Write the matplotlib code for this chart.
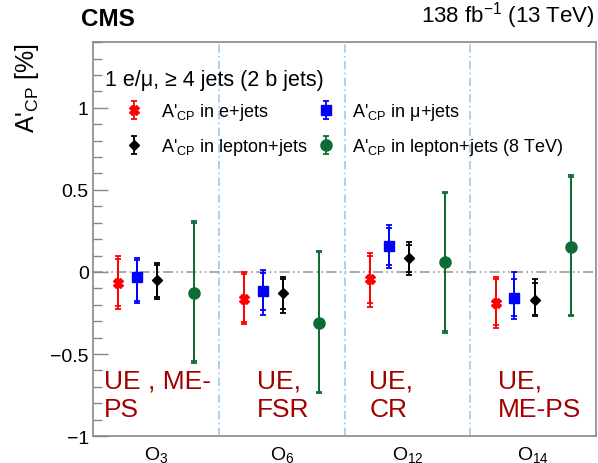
import numpy as np
import matplotlib
matplotlib.use("Agg")
from matplotlib import pyplot as plt
from matplotlib.ticker import MultipleLocator

plt.rcParams['font.family'] = ['Liberation Sans', 'DejaVu Sans']
plt.rcParams['mathtext.fontset'] = 'custom'
plt.rcParams['mathtext.rm'] = 'Liberation Sans'
plt.rcParams['mathtext.it'] = 'Liberation Sans:italic'

# observables
labels = ['O$_{3}$', 'O$_{6}$', 'O$_{12}$', 'O$_{14}$']
systs = ['UE , ME-\nPS', 'UE,\nFSR', 'UE,\nCR', 'UE,\nME-PS']

# A'_CP [%] : central value, total error up / down, stat error up / down
e_val = [-0.07, -0.165, -0.04, -0.19]
e_up = [0.17, 0.165, 0.155, 0.16]
e_dn = [0.155, 0.155, 0.175, 0.15]
e_sup = [0.15, 0.15, 0.14, 0.145]
e_sdn = [0.14, 0.14, 0.15, 0.135]

mu_val = [-0.03, -0.115, 0.16, -0.16]
mu_up = [0.115, 0.125, 0.125, 0.16]
mu_dn = [0.16, 0.145, 0.135, 0.125]
mu_sup = [0.10, 0.11, 0.11, 0.12]
mu_sdn = [0.15, 0.115, 0.115, 0.11]

l_val = [-0.05, -0.13, 0.085, -0.17]
l_up = [0.105, 0.10, 0.095, 0.125]
l_dn = [0.115, 0.12, 0.105, 0.10]
l_sup = [0.09, 0.09, 0.08, 0.10]
l_sdn = [0.10, 0.095, 0.085, 0.09]

l8_val = [-0.13, -0.31, 0.06, 0.155]
l8_up = [0.44, 0.44, 0.43, 0.435]
l8_dn = [0.425, 0.43, 0.43, 0.425]
l8_sup = [0.43, 0.43, 0.42, 0.425]
l8_sdn = [0.415, 0.42, 0.42, 0.415]

x = np.arange(len(labels))
green = '#0d6b35'

fig = plt.figure(figsize=(5.98, 4.64), dpi=100)
ax = fig.add_axes([0.1555, 0.058, 0.8415, 0.849])

series = [
    (e_val, e_up, e_dn, e_sup, e_sdn, 0.20, 'red', 'X', 7, "A'$_{\\rm CP}$ in e+jets"),
    (mu_val, mu_up, mu_dn, mu_sup, mu_sdn, 0.35, 'blue', 's', 7, "A'$_{\\rm CP}$ in \u03bc+jets"),
    (l_val, l_up, l_dn, l_sup, l_sdn, 0.51, 'black', 'D', 5.5, "A'$_{\\rm CP}$ in lepton+jets"),
    (l8_val, l8_up, l8_dn, l8_sup, l8_sdn, 0.80, green, 'o', 8, "A'$_{\\rm CP}$ in lepton+jets (8 TeV)"),
]

handles = []
for val, up, dn, sup, sdn, off, col, mk, ms, lab in series:
    xs = x + off
    # stat error (inner caps)
    ax.errorbar(xs, val, yerr=[sdn, sup], fmt='none', ecolor=col, elinewidth=1.3,
                capsize=2.2, capthick=1.3)
    h = ax.errorbar(xs, val, yerr=[dn, up], fmt=mk, color=col, ms=ms, mec=col,
                    elinewidth=1.3, capsize=2.2, capthick=1.3, label=lab)
    handles.append(h)

ax.axhline(0, color='#999999', lw=1.2, ls=(0, (6, 2, 1, 2, 1, 2)), zorder=0)
for b in [1, 2, 3]:
    ax.axvline(b, color='#9ccbef', lw=1.2, ls=(0, (5, 2, 1, 2)), zorder=0)

text_dx = [0.09, 0.30, 0.195, 0.22]
for i, s in enumerate(systs):
    ax.text(i + text_dx[i], -0.59, s, color='#a30000', fontsize=19, va='top',
            ha='left', linespacing=1.2)

ax.set_xlim(0, 4)
ax.set_ylim(-1, 1.4)
ax.set_xticks(x + 0.5)
ax.set_xticklabels(labels, fontsize=14)
ax.tick_params(axis='x', length=0, pad=6)
ax.yaxis.set_major_locator(MultipleLocator(0.5))
ax.yaxis.set_minor_locator(MultipleLocator(0.1))
ax.set_yticks([-1, -0.5, 0, 0.5, 1])
ax.set_yticklabels(['\u22121', '\u22120.5', '0', '0.5', '1'])
ax.tick_params(axis='y', which='major', direction='in', length=11, width=1,
               color='#888888', labelsize=14, pad=3)
ax.tick_params(axis='y', which='minor', direction='in', length=6.5, width=1,
               color='#888888')
for sp in ax.spines.values():
    sp.set_color('#888888')
    sp.set_linewidth(1.2)

ax.set_ylabel("A'$_{\\rm CP}$ [%]", fontsize=18, loc='top', labelpad=7)

fig.text(0.135, 0.933, 'CMS', fontsize=17.5, fontweight='bold', ha='left', va='bottom')
fig.text(0.995, 0.933, '138 fb$^{-1}$ (13 TeV)', fontsize=16, ha='right', va='bottom')
ax.text(0.024, 0.905, '1 e/\u03bc, \u2265 4 jets (2 b jets)', transform=ax.transAxes,
        fontsize=15.5, ha='left', va='center')

order = [handles[0], handles[2], handles[1], handles[3]]
ax.legend(order, [h.get_label() for h in order], ncol=2, frameon=False,
          fontsize=13, loc='upper left', bbox_to_anchor=(0.05, 0.868),
          handlelength=1.0, handletextpad=0.95, columnspacing=0.55,
          labelspacing=0.75, borderaxespad=0)

fig.savefig('out.png', dpi=100)
